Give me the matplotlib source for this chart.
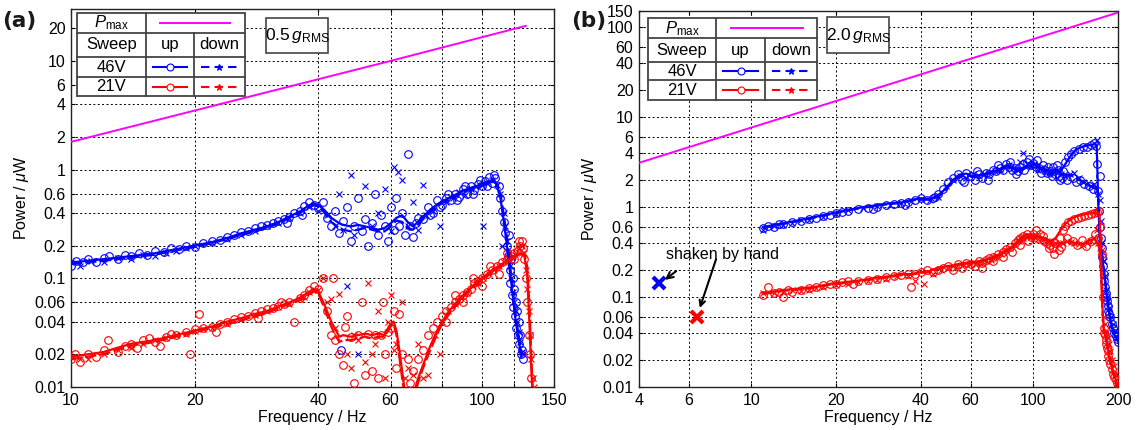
import matplotlib
matplotlib.use("Agg")
import matplotlib.pyplot as plt
from matplotlib.patches import Rectangle
from matplotlib.lines import Line2D
from matplotlib.ticker import NullLocator

plt.rcParams['font.family'] = ['Liberation Sans', 'DejaVu Sans']
plt.rcParams['mathtext.fontset'] = 'custom'
plt.rcParams['mathtext.rm'] = 'Liberation Sans'
plt.rcParams['mathtext.it'] = 'Liberation Sans:italic'

BLUE = '#0000ff'
RED = '#ff0000'
MAG = '#ff00ff'

# ---------------- panel (a): 0.5 g_RMS ----------------
a_pmax_f = [10, 60, 128]
a_pmax_p = [1.8, 10, 21]

a46_line_f = [10, 11, 12, 13, 14, 15, 16, 18, 20, 22, 24, 26, 28, 30, 32, 34, 36, 38, 39, 40,
              41, 42, 43, 44, 45, 46, 48, 50, 52, 54, 56, 58, 60, 62, 64, 66, 68, 70, 72, 75,
              78, 80, 85, 90, 95, 100, 104, 107, 109, 111, 113, 115, 117, 119, 121, 123, 125]
a46_up_p = [0.14, 0.145, 0.15, 0.155, 0.16, 0.165, 0.17, 0.185, 0.2, 0.215, 0.235, 0.26, 0.28, 0.3,
            0.33, 0.37, 0.41, 0.47, 0.49, 0.47, 0.44, 0.40, 0.36, 0.34, 0.32, 0.31, 0.30, 0.31,
            0.30, 0.29, 0.28, 0.29, 0.32, 0.36, 0.38, 0.33, 0.30, 0.33, 0.37, 0.43, 0.48, 0.51,
            0.57, 0.64, 0.69, 0.73, 0.78, 0.79, 0.72, 0.55, 0.35, 0.21, 0.12, 0.07, 0.04, 0.027, 0.019]
a46_dn_p = [0.135, 0.14, 0.145, 0.15, 0.155, 0.16, 0.165, 0.18, 0.195, 0.21, 0.23, 0.25, 0.27, 0.29,
            0.32, 0.36, 0.40, 0.45, 0.47, 0.46, 0.42, 0.37, 0.33, 0.31, 0.29, 0.28, 0.27, 0.28,
            0.29, 0.28, 0.27, 0.27, 0.30, 0.34, 0.33, 0.29, 0.28, 0.31, 0.35, 0.41, 0.46, 0.49,
            0.55, 0.62, 0.67, 0.71, 0.76, 0.77, 0.74, 0.60, 0.40, 0.25, 0.14, 0.08, 0.045, 0.03, 0.02]

a21_line_f = [10, 11, 12, 13, 14, 15, 16, 18, 20, 22, 24, 26, 28, 30, 32, 34, 36, 38, 39, 40,
              41, 42, 43, 44, 45, 46, 48, 50, 52, 54, 56, 58, 60, 61, 62, 63, 64, 65, 66,
              68, 69, 70, 72, 75, 78, 80, 85, 90, 95, 100, 105, 110, 115, 120, 124, 127, 129,
              130, 131, 132, 133]
a21_up_p = [0.019, 0.02, 0.021, 0.023, 0.025, 0.026, 0.027, 0.03, 0.033, 0.036, 0.04, 0.043, 0.047,
            0.05, 0.055, 0.06, 0.066, 0.075, 0.08, 0.075, 0.062, 0.05, 0.04, 0.034, 0.029, 0.03,
            0.029, 0.03, 0.031, 0.03, 0.031, 0.03, 0.038, 0.04, 0.033, 0.022, 0.014, 0.009, 0.006,
            0.006, 0.01, 0.012, 0.016, 0.024, 0.033, 0.04, 0.055, 0.07, 0.085, 0.1, 0.115, 0.13,
            0.145, 0.16, 0.17, 0.16, 0.11, 0.06, 0.03, 0.015, 0.009]
a21_dn_p = [0.018, 0.019, 0.02, 0.022, 0.024, 0.025, 0.026, 0.029, 0.032, 0.035, 0.038, 0.041, 0.045,
            0.048, 0.053, 0.058, 0.063, 0.071, 0.076, 0.072, 0.058, 0.046, 0.036, 0.03, 0.026, 0.027,
            0.027, 0.028, 0.029, 0.028, 0.029, 0.029, 0.036, 0.038, 0.03, 0.019, 0.012, 0.008, 0.006,
            0.006, 0.009, 0.011, 0.015, 0.022, 0.031, 0.038, 0.052, 0.067, 0.082, 0.097, 0.11, 0.125,
            0.14, 0.155, 0.165, 0.17, 0.13, 0.08, 0.045, 0.02, 0.01]

a46_up_pts = [(10, 0.13), (10.3, 0.145), (10.7, 0.14), (11, 0.15), (11.5, 0.14), (12, 0.155), (12.4, 0.16),
              (13, 0.15), (13.5, 0.165), (14, 0.16), (14.6, 0.17), (15.3, 0.165), (16, 0.18), (16.8, 0.175),
              (17.5, 0.19), (18.3, 0.185), (19, 0.2), (20, 0.195), (21, 0.21), (22, 0.22), (23, 0.225),
              (24, 0.24), (25, 0.25), (26, 0.265), (27, 0.27), (28, 0.29), (29, 0.3), (30, 0.31), (31, 0.32),
              (32, 0.34), (33, 0.35), (34, 0.37), (35, 0.4), (36, 0.42), (37, 0.46), (38, 0.5), (39, 0.47),
              (40, 0.44), (41, 0.5), (42, 0.36), (43, 0.3), (44, 0.42), (45, 0.26), (46, 0.34), (47, 0.45),
              (48, 0.22), (49, 0.3), (50, 0.55), (51, 0.27), (52, 0.35), (53, 0.2), (54, 0.32), (55, 0.6),
              (56, 0.25), (57, 0.38), (58, 0.3), (59, 0.22), (60, 0.45), (61, 0.28), (62, 0.55), (63, 0.3),
              (64, 0.4), (65, 0.25), (66, 1.4), (67, 0.3), (68, 0.24), (69, 0.32), (70, 0.36), (72, 0.35),
              (74, 0.45), (76, 0.4), (78, 0.52), (80, 0.47), (82, 0.55), (84, 0.52), (86, 0.6), (88, 0.56),
              (90, 0.66), (92, 0.6), (94, 0.7), (96, 0.65), (98, 0.74), (100, 0.7), (102, 0.78), (104, 0.85),
              (106, 0.76), (108, 0.84), (110, 0.7), (111, 0.55), (112, 0.42), (113, 0.33), (114, 0.26),
              (115, 0.2), (116, 0.16), (116.5, 0.25), (117, 0.12), (117.5, 0.09), (118, 0.15), (118.5, 0.07),
              (119, 0.1), (119.5, 0.055), (120, 0.08), (120.5, 0.045), (121, 0.06), (121.5, 0.035),
              (122, 0.05), (122.5, 0.03), (123, 0.04), (123.5, 0.025), (124, 0.03), (124.5, 0.02),
              (125, 0.022), (126, 0.018), (45.5, 0.022), (75, 0.38), (79, 0.45), (83, 0.6), (87, 0.52),
              (91, 0.7), (95, 0.6), (99, 0.8), (103, 0.7), (107, 0.9), (33.5, 0.32), (36.5, 0.38)]
a46_dn_pts = [(10, 0.14), (10.5, 0.13), (11.2, 0.145), (12, 0.14), (13, 0.155), (14, 0.15), (15, 0.165),
              (16, 0.16), (17, 0.17), (18, 0.18), (19, 0.19), (20, 0.2), (22, 0.21), (24, 0.23), (26, 0.25),
              (28, 0.27), (30, 0.3), (32, 0.32), (34, 0.36), (36, 0.4), (38, 0.45), (40, 0.42), (42, 0.38),
              (44, 0.3), (45, 0.6), (46, 0.28), (47, 0.085), (48, 0.9), (49, 0.25), (50, 0.02), (52, 0.7),
              (54, 0.3), (56, 0.4), (58, 0.67), (61, 1.06), (62.7, 0.95), (60, 0.27), (64, 0.8), (66, 0.3),
              (68, 0.5), (70, 0.28), (72, 0.72), (73, 0.38), (76, 0.42), (79, 0.3), (82, 0.5), (85, 0.55),
              (88, 0.62), (91, 0.58), (94, 0.66), (97, 0.7), (101, 0.3), (100, 0.72), (103, 0.75), (106, 0.8),
              (109, 0.72), (111, 0.6), (112, 0.2), (113, 0.4), (114, 0.3), (115, 0.22), (116, 0.17),
              (117, 0.13), (118, 0.1), (119, 0.075), (120, 0.06), (121, 0.05), (122, 0.04), (123, 0.032),
              (124, 0.026), (125, 0.021)]
a21_up_pts = [(10, 0.018), (10.2, 0.02), (10.5, 0.017), (11, 0.02), (11.5, 0.019), (12, 0.022), (12.3, 0.027),
              (13, 0.021), (13.5, 0.024), (14, 0.025), (14.5, 0.023), (15, 0.027), (15.5, 0.028), (16, 0.026),
              (17, 0.029), (17.5, 0.031), (18, 0.03), (19, 0.032), (19.5, 0.02), (20, 0.034), (20.5, 0.047),
              (21, 0.035), (22, 0.036), (23, 0.038), (24, 0.04), (25, 0.042), (26, 0.044), (27, 0.045),
              (28, 0.048), (29, 0.05), (30, 0.052), (31, 0.053), (32, 0.056), (33, 0.058), (34, 0.06),
              (35, 0.04), (36, 0.066), (37, 0.07), (38, 0.078), (39, 0.085), (40, 0.08), (41, 0.1), (42, 0.05),
              (43, 0.03), (43.5, 0.1), (44, 0.027), (45, 0.02), (46, 0.016), (46.5, 0.036), (47, 0.045),
              (48, 0.029), (49, 0.011), (50, 0.03), (51, 0.06), (52, 0.013), (53, 0.031), (54, 0.014),
              (55, 0.03), (56, 0.012), (57, 0.03), (57.5, 0.06), (58, 0.02), (59, 0.032), (60, 0.035),
              (61, 0.05), (62, 0.015), (63, 0.047), (64, 0.02), (66, 0.018), (67, 0.011), (68, 0.014),
              (70, 0.018), (72, 0.022), (74, 0.03), (76, 0.035), (78, 0.04), (80, 0.045), (82, 0.05),
              (84, 0.055), (86, 0.06), (88, 0.065), (90, 0.07), (92, 0.075), (94, 0.08), (96, 0.09),
              (98, 0.095), (100, 0.1), (103, 0.11), (106, 0.12), (109, 0.13), (112, 0.14), (115, 0.15),
              (118, 0.16), (120, 0.17), (122, 0.18), (124, 0.2), (125, 0.22), (126, 0.19), (127, 0.15),
              (128, 0.1), (129, 0.06), (130, 0.03), (131, 0.02), (132, 0.012), (82, 0.04), (86, 0.07),
              (90, 0.06), (95, 0.1), (100, 0.085), (105, 0.13), (110, 0.11), (115, 0.17), (120, 0.15),
              (123, 0.22), (16.5, 0.024), (22.5, 0.032), (28.5, 0.043), (32.5, 0.061)]
a21_dn_pts = [(10, 0.019), (10.5, 0.018), (11, 0.018), (12, 0.02), (13, 0.022), (14, 0.023), (15, 0.025),
              (16, 0.027), (17, 0.028), (18, 0.03), (19, 0.031), (20, 0.033), (21, 0.034), (22, 0.035),
              (24, 0.038), (26, 0.042), (28, 0.046), (30, 0.05), (32, 0.054), (34, 0.058), (36, 0.064),
              (37, 0.068), (38, 0.075), (40, 0.078), (41, 0.1), (42, 0.06), (43, 0.065), (44, 0.035),
              (45, 0.072), (47, 0.02), (48, 0.015), (49, 0.03), (50, 0.027), (52, 0.017), (53, 0.09),
              (54, 0.02), (55, 0.025), (56, 0.05), (58, 0.012), (59, 0.04), (60, 0.07), (61, 0.022),
              (62, 0.025), (64, 0.06), (65, 0.012), (66, 0.015), (68, 0.013), (70, 0.025), (72, 0.012),
              (74, 0.013), (77, 0.03), (79, 0.02), (80, 0.04), (83, 0.05), (86, 0.058), (89, 0.066),
              (92, 0.074), (95, 0.085), (98, 0.09), (101, 0.1), (104, 0.11), (107, 0.12), (110, 0.13),
              (113, 0.14), (116, 0.15), (119, 0.16), (121, 0.17), (123, 0.19), (125, 0.2), (127, 0.17),
              (128, 0.12), (129, 0.08), (130, 0.05), (131, 0.03), (132, 0.018), (133, 0.012), (134, 0.01)]

# ---------------- panel (b): 2.0 g_RMS ----------------
b_pmax_f = [4, 200]
b_pmax_p = [3.1, 145]

b46_line_f = [11, 12, 13, 14, 15, 17, 19, 21, 23, 25, 28, 31, 34, 37, 40, 43, 46, 49, 52, 55, 58, 61,
              64, 68, 72, 76, 80, 85, 90, 95, 100, 105, 110, 115, 120, 125, 130, 135, 140, 145, 150,
              155, 160, 165, 168, 169, 170, 172, 175, 178, 182, 186, 191, 195, 200]
b46_up_p = [0.6, 0.63, 0.66, 0.69, 0.72, 0.78, 0.84, 0.9, 0.95, 1.0, 1.05, 1.1, 1.12, 1.2, 1.25, 1.22,
            1.35, 1.6, 2.0, 2.3, 2.35, 2.2, 2.25, 2.35, 2.5, 2.6, 2.9, 2.7, 2.6, 2.8, 3.0, 2.8, 2.6,
            2.5, 2.6, 2.5, 3.0, 3.6, 4.2, 4.5, 4.7, 4.8, 4.9, 5.0, 4.9, 2.5, 1.2, 0.5, 0.3, 0.2, 0.11,
            0.066, 0.043, 0.037, 0.032]
b46_dn_p = [0.58, 0.62, 0.65, 0.68, 0.71, 0.77, 0.83, 0.89, 0.94, 0.98, 1.04, 1.08, 1.11, 1.18, 1.22,
            1.2, 1.3, 1.55, 1.95, 2.25, 2.3, 2.15, 2.2, 2.3, 2.45, 2.55, 2.8, 2.65, 2.55, 2.75, 2.9, 2.7,
            2.5, 2.4, 2.5, 2.4, 2.3, 2.25, 2.2, 2.05, 1.9, 1.8, 1.7, 1.65, 1.6, 1.5, 1.3, 0.6, 0.32,
            0.21, 0.12, 0.07, 0.046, 0.039, 0.034]

b21_line_f = [11, 12, 13, 14, 15, 17, 19, 21, 23, 25, 28, 31, 34, 37, 40, 43, 46, 49, 52, 55, 58, 61,
              64, 68, 72, 76, 80, 85, 90, 95, 100, 105, 110, 115, 120, 125, 130, 135, 140, 145, 150,
              155, 160, 165, 170, 172, 174, 176, 178, 180, 183, 186, 190, 195, 200]
b21_up_p = [0.11, 0.115, 0.12, 0.122, 0.125, 0.13, 0.14, 0.145, 0.15, 0.155, 0.165, 0.17, 0.18, 0.18,
            0.19, 0.195, 0.21, 0.22, 0.225, 0.235, 0.24, 0.245, 0.25, 0.26, 0.28, 0.3, 0.33, 0.37, 0.45,
            0.5, 0.48, 0.47, 0.45, 0.42, 0.45, 0.55, 0.65, 0.72, 0.77, 0.8, 0.82, 0.84, 0.85, 0.86, 0.87,
            0.8, 0.3, 0.08, 0.045, 0.04, 0.03, 0.022, 0.017, 0.013, 0.01]
b21_dn_p = [0.108, 0.112, 0.117, 0.12, 0.122, 0.128, 0.137, 0.142, 0.147, 0.152, 0.16, 0.167, 0.175,
            0.177, 0.185, 0.19, 0.205, 0.215, 0.22, 0.23, 0.235, 0.24, 0.245, 0.255, 0.27, 0.29, 0.32,
            0.36, 0.43, 0.48, 0.47, 0.45, 0.43, 0.41, 0.4, 0.39, 0.4, 0.41, 0.4, 0.39, 0.39, 0.41, 0.43,
            0.45, 0.38, 0.34, 0.2, 0.07, 0.043, 0.038, 0.029, 0.021, 0.016, 0.012, 0.0095]

b46_up_pts = [(11, 0.58), (11.5, 0.62), (12, 0.6), (12.5, 0.64), (13, 0.65), (14, 0.68), (15, 0.7),
              (16, 0.74), (17, 0.76), (18, 0.8), (19, 0.82), (20, 0.85), (21, 0.88), (22, 0.9), (24, 0.95),
              (26, 0.98), (28, 1.0), (30, 1.05), (32, 1.08), (34, 1.1), (36, 1.15), (38, 1.2), (40, 1.25),
              (42, 1.2), (44, 1.25), (46, 1.4), (48, 1.6), (50, 1.9), (52, 2.1), (54, 2.3), (56, 2.0),
              (58, 2.4), (60, 2.2), (62, 2.0), (64, 2.3), (66, 2.1), (68, 2.4), (70, 2.3), (72, 2.6),
              (74, 2.5), (76, 2.7), (78, 2.6), (80, 3.0), (82, 2.8), (84, 2.6), (86, 2.7), (88, 2.5),
              (90, 2.8), (92, 3.0), (95, 3.2), (98, 2.9), (100, 3.1), (102, 2.8), (105, 2.7), (108, 2.9),
              (110, 2.6), (112, 2.4), (115, 2.5), (118, 2.8), (120, 2.3), (122, 2.6), (125, 2.0),
              (128, 2.5), (130, 3.2), (133, 3.6), (136, 3.9), (140, 4.2), (145, 4.4), (150, 4.6),
              (155, 4.7), (160, 4.9), (165, 5.2), (167, 4.8), (169, 3.0), (170, 1.5), (171, 0.9),
              (172, 2.2), (173, 0.6), (174, 0.45), (175, 0.35), (176, 0.28), (177, 0.22), (178, 0.18),
              (179, 0.15), (180, 0.13), (181, 0.11), (182, 0.1), (183, 0.09), (184, 0.08), (185, 0.07),
              (186, 0.065), (188, 0.06), (190, 0.05), (192, 0.045), (194, 0.04), (196, 0.037),
              (198, 0.034), (200, 0.032), (57, 1.9), (63, 2.5), (69, 2.0), (75, 2.9), (83, 3.2),
              (87, 2.3), (93, 2.6), (97, 3.4), (103, 3.3), (107, 2.4), (113, 2.8), (117, 2.2), (121, 2.9),
              (124, 2.2), (127, 2.1), (132, 2.0), (138, 2.1), (142, 1.9), (147, 2.0), (152, 1.8),
              (158, 1.7), (163, 1.6), (27, 0.94), (35, 1.05), (45, 1.3)]
b46_dn_pts = [(11, 0.55), (12, 0.62), (13, 0.63), (14, 0.66), (15, 0.72), (16, 0.72), (18, 0.78),
              (20, 0.84), (22, 0.92), (25, 0.97), (28, 1.02), (31, 1.06), (34, 1.12), (37, 1.18),
              (40, 1.22), (43, 1.2), (46, 1.3), (49, 1.7), (52, 2.0), (55, 2.2), (58, 2.1), (61, 2.3),
              (64, 2.2), (67, 2.3), (70, 2.4), (73, 2.5), (76, 2.6), (79, 2.8), (82, 2.9), (85, 2.7),
              (88, 2.6), (90, 3.2), (92, 4.0), (95, 3.0), (98, 2.8), (101, 3.0), (104, 2.6), (107, 2.7),
              (110, 2.5), (114, 2.4), (118, 2.3), (122, 2.5), (126, 2.3), (130, 2.2), (135, 2.3),
              (140, 2.4), (145, 2.1), (150, 1.9), (155, 1.8), (160, 1.7), (165, 1.8), (168, 5.5),
              (170, 1.4), (172, 1.2), (174, 0.7), (176, 0.4), (178, 0.25), (180, 0.17), (182, 0.12),
              (184, 0.09), (186, 0.075), (189, 0.06), (192, 0.05), (195, 0.042), (198, 0.036)]
b21_up_pts = [(11, 0.105), (11.5, 0.13), (12, 0.11), (12.5, 0.115), (13, 0.1), (13.5, 0.12), (14, 0.115),
              (15, 0.12), (16, 0.125), (17, 0.13), (18, 0.135), (19, 0.14), (20, 0.14), (21, 0.145),
              (22, 0.15), (23, 0.14), (24, 0.15), (26, 0.155), (28, 0.16), (30, 0.165), (32, 0.17),
              (34, 0.175), (36, 0.18), (37, 0.13), (38, 0.18), (40, 0.19), (42, 0.2), (44, 0.19),
              (46, 0.2), (48, 0.21), (50, 0.22), (52, 0.2), (54, 0.23), (56, 0.21), (58, 0.24), (60, 0.23),
              (62, 0.22), (64, 0.25), (66, 0.24), (68, 0.26), (70, 0.27), (72, 0.28), (75, 0.3), (78, 0.32),
              (80, 0.34), (83, 0.36), (86, 0.4), (88, 0.43), (90, 0.45), (92, 0.48), (95, 0.5), (98, 0.46),
              (100, 0.5), (103, 0.45), (106, 0.5), (109, 0.42), (112, 0.4), (115, 0.38), (118, 0.35),
              (120, 0.4), (123, 0.33), (125, 0.45), (128, 0.55), (130, 0.62), (133, 0.68), (136, 0.7),
              (140, 0.74), (144, 0.76), (148, 0.78), (152, 0.8), (156, 0.82), (160, 0.84), (164, 0.86),
              (168, 0.88), (171, 0.9), (173, 0.6), (175, 0.3), (177, 0.1), (178, 0.045), (179, 0.04),
              (180, 0.038), (181, 0.033), (182, 0.03), (183, 0.027), (184, 0.025), (185, 0.022),
              (186, 0.02), (188, 0.018), (190, 0.016), (192, 0.014), (194, 0.013), (196, 0.012),
              (198, 0.011), (200, 0.01), (66, 0.21), (72, 0.25), (78, 0.28), (84, 0.32), (90, 0.38),
              (96, 0.42), (102, 0.55), (108, 0.48), (114, 0.35), (119, 0.3), (126, 0.36), (132, 0.45),
              (138, 0.42), (143, 0.38), (149, 0.43), (154, 0.37), (161, 0.42), (166, 0.5), (170, 0.45)]
b21_dn_pts = [(11, 0.11), (12, 0.11), (13, 0.115), (14, 0.12), (15, 0.118), (16, 0.12), (17, 0.125),
              (18, 0.13), (20, 0.135), (22, 0.14), (24, 0.145), (26, 0.15), (28, 0.155), (30, 0.16),
              (33, 0.17), (36, 0.17), (38, 0.15), (41, 0.14), (44, 0.18), (47, 0.2), (50, 0.21), (53, 0.21),
              (56, 0.22), (59, 0.23), (62, 0.23), (65, 0.24), (68, 0.25), (71, 0.26), (74, 0.28), (77, 0.3),
              (80, 0.33), (83, 0.35), (86, 0.38), (89, 0.42), (92, 0.45), (95, 0.48), (98, 0.47), (101, 0.46),
              (104, 0.44), (108, 0.43), (112, 0.42), (116, 0.41), (120, 0.4), (124, 0.38), (128, 0.4),
              (132, 0.42), (136, 0.41), (140, 0.4), (145, 0.39), (150, 0.38), (155, 0.4), (160, 0.42),
              (165, 0.45), (168, 0.55), (170, 0.4), (172, 0.35), (174, 0.3), (176, 0.33), (178, 0.06),
              (180, 0.05), (182, 0.04), (184, 0.035), (186, 0.03), (188, 0.025), (190, 0.02), (193, 0.017),
              (196, 0.014), (199, 0.011)]

# shaken by hand points
hand_f = [4.7, 6.4]
hand_p = [0.143, 0.060]

a_xticks = [10, 20, 40, 60, 80, 100, 120, 150]
a_xlabels = ['10', '20', '40', '60', '', '100', '', '150']
a_yticks = [0.01, 0.02, 0.04, 0.06, 0.1, 0.2, 0.4, 0.6, 1, 2, 4, 6, 10, 20]
b_xticks = [4, 6, 10, 20, 40, 60, 100, 200]
b_yticks = [0.01, 0.02, 0.04, 0.06, 0.1, 0.2, 0.4, 0.6, 1, 2, 4, 6, 10, 20, 40, 60, 100, 150]


def fmt(v):
    return ('%g' % v)


def setup(ax, xlim, ylim, xt, xl, yt):
    ax.set_xscale('log')
    ax.set_yscale('log')
    ax.set_xlim(*xlim)
    ax.set_ylim(*ylim)
    ax.set_xticks(xt, xl)
    ax.set_yticks(yt, [fmt(v) for v in yt])
    ax.xaxis.set_minor_locator(NullLocator())
    ax.yaxis.set_minor_locator(NullLocator())
    ax.grid(True, which='major', color='k', linestyle=(0, (2, 2.5)), linewidth=0.7)
    ax.tick_params(direction='in', length=3, labelsize=11.5, top=True, right=True, pad=4)
    for s in ax.spines.values():
        s.set_linewidth(1.0)
        s.set_color('#222222')
    ax.set_xlabel('Frequency / Hz', fontsize=11.5, labelpad=2)
    ax.set_ylabel(r'Power / $\mu$W', fontsize=11.5, labelpad=2)


def scatter_pts(ax, pts, color, marker):
    fs = [p[0] for p in pts]
    ps = [p[1] for p in pts]
    if marker == 'o':
        ax.plot(fs, ps, 'o', ms=5.5, mfc='none', mec=color, mew=0.8, zorder=3)
    else:
        ax.plot(fs, ps, 'x', ms=4.5, mec=color, mew=0.8, zorder=3)


def key_table(ax, xs, ys, gtext, gbox):
    # xs: 4 column borders, ys: 5 row borders (axes fraction, top to bottom)
    lc = '#444444'
    ax.add_patch(Rectangle((xs[0], ys[4]), xs[3] - xs[0], ys[0] - ys[4], transform=ax.transAxes,
                           facecolor='white', edgecolor=lc, lw=1.3, zorder=6))
    for y in ys[1:4]:
        ax.add_line(Line2D([xs[0], xs[3]], [y, y], transform=ax.transAxes, color=lc, lw=1.3, zorder=7))
    ax.add_line(Line2D([xs[1], xs[1]], [ys[0], ys[4]], transform=ax.transAxes, color=lc, lw=1.3, zorder=7))
    ax.add_line(Line2D([xs[2], xs[2]], [ys[1], ys[4]], transform=ax.transAxes, color=lc, lw=1.3, zorder=7))
    cx0 = (xs[0] + xs[1]) / 2
    cx1 = (xs[1] + xs[2]) / 2
    cx2 = (xs[2] + xs[3]) / 2
    rows = [(ys[i] + ys[i + 1]) / 2 for i in range(4)]
    kw = dict(transform=ax.transAxes, ha='center', va='center', fontsize=12, zorder=8)
    ax.text(cx0, rows[0], r'$P_{\mathrm{max}}$', **kw)
    ax.text(cx0, rows[1], 'Sweep', **kw)
    ax.text(cx1, rows[1], 'up', **kw)
    ax.text(cx2, rows[1], 'down', **kw)
    ax.text(cx0, rows[2], '46V', **kw)
    ax.text(cx0, rows[3], '21V', **kw)
    w1 = (xs[2] - xs[1]) * 0.36
    w2 = (xs[3] - xs[2]) * 0.36
    ax.add_line(Line2D([xs[1] + 0.03, xs[3] - 0.03], [rows[0], rows[0]], transform=ax.transAxes,
                       color=MAG, lw=1.4, zorder=8))
    for r, c in ((rows[2], BLUE), (rows[3], RED)):
        ax.add_line(Line2D([cx1 - w1, cx1 + w1], [r, r], transform=ax.transAxes, color=c, lw=1.5, zorder=8))
        ax.add_line(Line2D([cx1], [r], transform=ax.transAxes, color=c, marker='o', ms=5, mfc='white',
                           mec=c, mew=0.8, zorder=9))
        ax.add_line(Line2D([cx2 - w2, cx2 + w2], [r, r], transform=ax.transAxes, color=c, lw=1.5,
                           linestyle=(0, (4, 2.5)), zorder=8))
        ax.add_line(Line2D([cx2], [r], transform=ax.transAxes, color=c, marker='*', ms=5, mec=c,
                           mew=0.8, zorder=9))
    ax.add_patch(Rectangle((gbox[0], gbox[2]), gbox[1] - gbox[0], gbox[3] - gbox[2], transform=ax.transAxes,
                           facecolor='white', edgecolor=lc, lw=1.2, zorder=6))
    ax.text((gbox[0] + gbox[1]) / 2, (gbox[2] + gbox[3]) / 2, gtext, transform=ax.transAxes,
            ha='center', va='center', fontsize=12.5, zorder=8)


fig = plt.figure(figsize=(11.44, 4.30), dpi=100)
ax1 = fig.add_axes([0.0621, 0.1, 0.4222, 0.879])
ax2 = fig.add_axes([0.5586, 0.1, 0.4187, 0.874])

# panel (a)
setup(ax1, (10, 150), (0.01, 30), a_xticks, a_xlabels, a_yticks)
ax1.plot(a_pmax_f, a_pmax_p, color=MAG, lw=1.4, zorder=4)
scatter_pts(ax1, a46_up_pts, BLUE, 'o')
scatter_pts(ax1, a46_dn_pts, BLUE, 'x')
scatter_pts(ax1, a21_up_pts, RED, 'o')
scatter_pts(ax1, a21_dn_pts, RED, 'x')
ax1.plot(a46_line_f, a46_up_p, color=BLUE, lw=1.6, zorder=4)
ax1.plot(a46_line_f, a46_dn_p, color=BLUE, lw=1.6, linestyle=(0, (5, 1.5)), zorder=4)
ax1.plot(a21_line_f, a21_up_p, color=RED, lw=1.6, zorder=4)
ax1.plot(a21_line_f, a21_dn_p, color=RED, lw=1.6, linestyle=(0, (5, 1.5)), zorder=4)
key_table(ax1, [0.012, 0.155, 0.254, 0.360], [0.989, 0.937, 0.873, 0.820, 0.770],
          r'0.5$\,g_{\mathrm{RMS}}$', [0.404, 0.532, 0.884, 0.976])

# panel (b)
setup(ax2, (4, 200), (0.01, 150), b_xticks, [fmt(v) for v in b_xticks], b_yticks)
ax2.plot(b_pmax_f, b_pmax_p, color=MAG, lw=1.4, zorder=4)
scatter_pts(ax2, b46_up_pts, BLUE, 'o')
scatter_pts(ax2, b46_dn_pts, BLUE, 'x')
scatter_pts(ax2, b21_up_pts, RED, 'o')
scatter_pts(ax2, b21_dn_pts, RED, 'x')
ax2.plot(b46_line_f, b46_up_p, color=BLUE, lw=1.6, zorder=4)
ax2.plot(b46_line_f, b46_dn_p, color=BLUE, lw=1.6, linestyle=(0, (5, 1.5)), zorder=4)
ax2.plot(b21_line_f, b21_up_p, color=RED, lw=1.6, zorder=4)
ax2.plot(b21_line_f, b21_dn_p, color=RED, lw=1.6, linestyle=(0, (5, 1.5)), zorder=4)
ax2.plot(hand_f[:1], hand_p[:1], 'x', ms=9, mew=3, color=BLUE, zorder=5)
ax2.plot(hand_f[1:], hand_p[1:], 'x', ms=9, mew=3, color=RED, zorder=5)
ax2.annotate('shaken by hand', xy=(4.94, 0.155), xytext=(7.9, 0.30), fontsize=11.5, ha='center',
             va='center', arrowprops=dict(arrowstyle='->', color='k', lw=1.5, shrinkA=8, shrinkB=0,
                                          relpos=(0.2, 0.0)), zorder=6)
ax2.annotate('', xy=(6.57, 0.0755), xytext=(7.5, 0.262),
             arrowprops=dict(arrowstyle='->', color='k', lw=1.5, shrinkA=0, shrinkB=0), zorder=6)
key_table(ax2, [0.019, 0.161, 0.263, 0.372], [0.981, 0.928, 0.864, 0.816, 0.763],
          r'2.0$\,g_{\mathrm{RMS}}$', [0.392, 0.522, 0.888, 0.984])

fig.text(0.002, 0.975, '(a)', fontsize=15.5, fontweight='bold', ha='left', va='top',
         family='DejaVu Sans', color='#1a1a1a')
fig.text(0.499, 0.975, '(b)', fontsize=15.5, fontweight='bold', ha='left', va='top',
         family='DejaVu Sans', color='#1a1a1a')

fig.savefig('out.png', dpi=100)
